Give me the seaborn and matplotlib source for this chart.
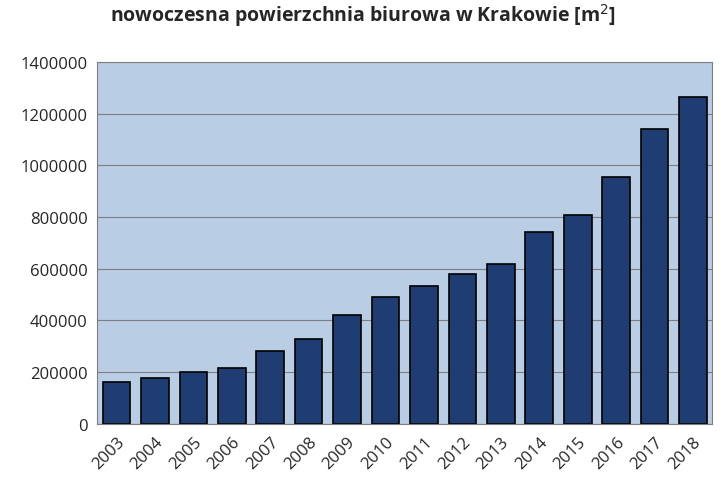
import matplotlib
matplotlib.use("Agg")
import matplotlib.pyplot as plt
import seaborn as sns
import pandas as pd

years = [str(y) for y in range(2003, 2019)]
area = [162000, 178000, 201000, 218000, 282000, 329000, 421000, 491000,
        534000, 580000, 619000, 743000, 808000, 955000, 1141000, 1265000]

df = pd.DataFrame({"rok": years, "powierzchnia": area})

sns.set_style("white")
plt.rcParams["font.family"] = ["Open Sans", "DejaVu Sans"]

fig = plt.figure(figsize=(7.26, 4.85), dpi=100)
ax = fig.add_axes([0.134, 0.124, 0.847, 0.746])
ax.set_facecolor("#b9cde5")

sns.barplot(data=df, x="rok", y="powierzchnia", color="#1f3d73",
            edgecolor="black", linewidth=1.2, width=0.72, saturation=1, ax=ax)

ax.set_ylim(0, 1400000)
ax.set_yticks(range(0, 1400001, 200000))
ax.set_yticklabels([str(v) for v in range(0, 1400001, 200000)], fontsize=12)
ax.yaxis.grid(True, color="#7f7f7f", linewidth=0.8)
ax.set_axisbelow(True)
ax.tick_params(axis="x", labelrotation=45, labelsize=12)
for lbl in ax.get_xticklabels():
    lbl.set_ha("right")
    lbl.set_rotation_mode("anchor")
ax.set_xlabel("")
ax.set_ylabel("")
for s in ax.spines.values():
    s.set_color("#7f7f7f")

fig.text(0.5, 0.955, "nowoczesna powierzchnia biurowa w Krakowie [m$^2$]",
         ha="center", fontsize=14, fontweight="bold")

fig.savefig("out.png", dpi=100)
